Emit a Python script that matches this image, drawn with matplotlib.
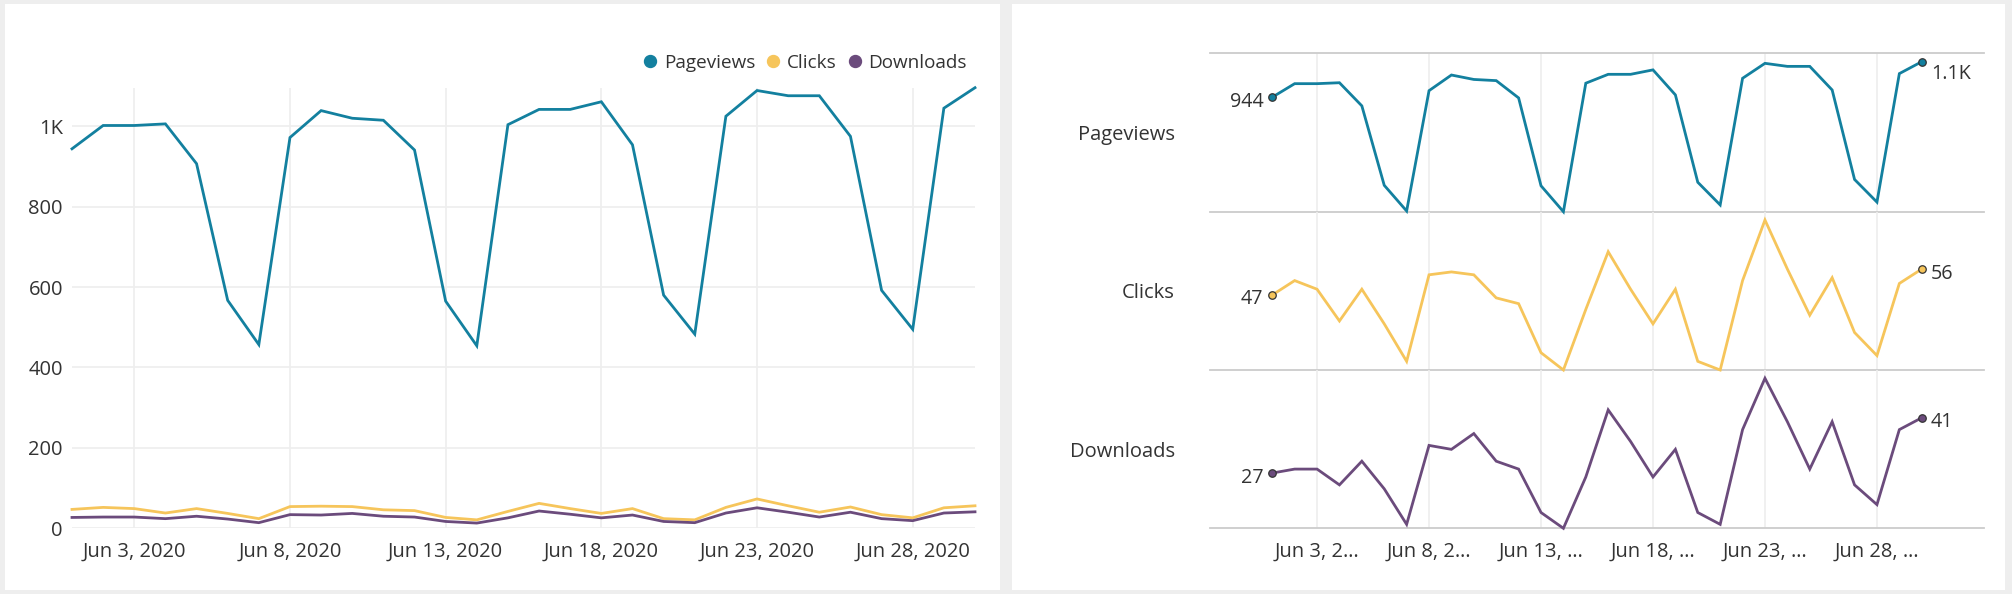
import matplotlib
matplotlib.use("Agg")
import matplotlib.pyplot as plt
import matplotlib.transforms as mtrans
import matplotlib.dates as mdates
from matplotlib.patches import Rectangle
from matplotlib.lines import Line2D
import pandas as pd

plt.rcParams['font.family'] = ['Open Sans', 'DejaVu Sans']

# ---------------- data ----------------
dates = pd.date_range('2020-06-01', '2020-06-30', freq='D')

pageviews = [944, 1002, 1002, 1006, 907, 567, 457, 972, 1039, 1020,
             1015, 941, 565, 454, 1004, 1042, 1042, 1061, 954, 580,
             483, 1025, 1089, 1076, 1076, 975, 592, 495, 1045, 1096]
clicks = [47, 52, 49, 38, 49, 37, 24, 54, 55, 54,
          46, 44, 27, 21, 42, 62, 49, 37, 49, 24,
          21, 52, 73, 56, 40, 53, 34, 26, 51, 56]
downloads = [27, 28, 28, 24, 30, 23, 14, 34, 33, 37,
             30, 28, 17, 13, 26, 43, 35, 26, 33, 17,
             14, 38, 51, 40, 28, 40, 24, 19, 38, 41]

series_names = ['Pageviews', 'Clicks', 'Downloads']
series_colors = ['#13809f', '#f6c55b', '#6b4b7c']

tick_dates = pd.to_datetime(['2020-06-03', '2020-06-08', '2020-06-13',
                             '2020-06-18', '2020-06-23', '2020-06-28'])
left_tick_labels = ['Jun 3, 2020', 'Jun 8, 2020', 'Jun 13, 2020',
                    'Jun 18, 2020', 'Jun 23, 2020', 'Jun 28, 2020']
right_tick_labels = ['Jun 3, 2…', 'Jun 8, 2…', 'Jun 13, …',
                     'Jun 18, …', 'Jun 23, …', 'Jun 28, …']
y_ticks = [0, 200, 400, 600, 800, 1000]
y_tick_labels = ['0', '200', '400', '600', '800', '1K']

# ---------------- style ----------------
W, H = 2012, 594
TXT = '#333333'
GRID = '#eeeeee'
SEP = '#cccccc'
FS = 14.5
LW = 2.0

def fx(px):
    return px / W

def fy(py):
    return 1 - py / H

fig = plt.figure(figsize=(W / 100, H / 100), dpi=100, facecolor='#eeeeee')

# white cards
for (x0, y0, x1, y1) in [(4.5, 4, 1000, 590), (1012, 4, 2005, 590)]:
    fig.patches.append(Rectangle((fx(x0), fy(y1)), (x1 - x0) / W, (y1 - y0) / H,
                                 transform=fig.transFigure, facecolor='white',
                                 edgecolor='none', zorder=-5))

all_series = [pageviews, clicks, downloads]

# ---------------- left chart ----------------
axL = fig.add_axes([fx(72), fy(528.3), (975 - 72) / W, (528.3 - 87.7) / H])
axL.set_facecolor('none')
for vals, col in zip(all_series, series_colors):
    axL.plot(dates, vals, color=col, lw=LW, clip_on=False, zorder=3,
             solid_joinstyle='miter')
axL.set_xlim(dates[0], dates[-1])
axL.set_ylim(0, max(pageviews))
axL.set_yticks(y_ticks)
axL.set_yticklabels(y_tick_labels)
axL.set_xticks(tick_dates)
axL.set_xticklabels(left_tick_labels)
axL.grid(True, color=GRID, lw=1.2, zorder=0)
axL.set_axisbelow(True)
for s in axL.spines.values():
    s.set_visible(False)
axL.tick_params(axis='both', length=0, labelsize=FS, labelcolor=TXT)
axL.tick_params(axis='x', pad=9.9)
axL.tick_params(axis='y', pad=6.5)

handles = [Line2D([], [], marker='o', ls='', color=c, markersize=8.6) for c in series_colors]
axL.legend(handles, series_names, loc='center right',
           bbox_to_anchor=(fx(967), fy(63)), bbox_transform=fig.transFigure,
           ncol=3, frameon=False, fontsize=13.6, handlelength=0.7,
           handletextpad=0.38, columnspacing=0.59, borderpad=0,
           borderaxespad=0, labelcolor=TXT)

# ---------------- right chart (small multiples) ----------------
bands = [(53.3, 211.7), (211.7, 370.0), (370.0, 528.3)]
RX0, RX1 = 1210, 1984
pad_days = pd.Timedelta(days=2.78)

def fmt(v):
    return f'{v / 1000:.1f}K' if v >= 1000 else f'{v}'

for i, (name, vals, col, (top, bot)) in enumerate(zip(series_names, all_series,
                                                         series_colors, bands)):
    ax = fig.add_axes([fx(RX0), fy(bot), (RX1 - RX0) / W, (bot - top) / H])
    ax.set_facecolor('none')
    ax.plot(dates, vals, color=col, lw=LW, clip_on=False, zorder=3,
            solid_joinstyle='miter')
    ax.plot([dates[0], dates[-1]], [vals[0], vals[-1]], ls='', marker='o',
            markersize=5.4, markerfacecolor=col, markeredgecolor='#333333',
            markeredgewidth=0.9, clip_on=False, zorder=4)
    lo, hi = min(vals), max(vals)
    span = (hi - lo) * (bot - top) / 150.0
    ax.set_ylim(lo, lo + span)
    ax.set_xlim(dates[0] - pad_days, dates[-1] + pad_days)
    ax.set_yticks([])
    ax.set_xticks(tick_dates)
    ax.grid(axis='x', color=GRID, lw=1.2, zorder=0)
    ax.set_axisbelow(True)
    for side in ['left', 'right']:
        ax.spines[side].set_visible(False)
    ax.spines['top'].set_visible(i == 0)
    for side in ['top', 'bottom']:
        ax.spines[side].set_color(SEP)
        ax.spines[side].set_linewidth(1.3)
    ax.tick_params(axis='both', length=0, labelsize=FS, labelcolor=TXT)
    if i == len(series_names) - 1:
        ax.set_xticklabels(right_tick_labels)
        ax.tick_params(axis='x', pad=9.9)
    else:
        ax.set_xticklabels([])

    ax.set_ylabel(name, rotation=0, ha='right', va='center_baseline',
                  fontsize=FS, color=TXT)
    ax.yaxis.set_label_coords((1175 - RX0) / (RX1 - RX0), 0.5)

    # start / end value labels
    trans = mtrans.blended_transform_factory(ax.transData, ax.transAxes)
    clamp = 1 - 16.4 / (bot - top)
    for idx, dx, ha in [(0, -9, 'right'), (-1, 9, 'left')]:
        v = vals[idx]
        frac = min((v - lo) / span, clamp)
        ax.text(mdates.date2num(dates[idx]), frac, fmt(v),
                transform=mtrans.offset_copy(trans, fig=fig, x=dx, y=-2, units='dots'),
                ha=ha, va='center_baseline', fontsize=14.2, color=TXT)

fig.savefig('out.png', dpi=100, facecolor=fig.get_facecolor())
